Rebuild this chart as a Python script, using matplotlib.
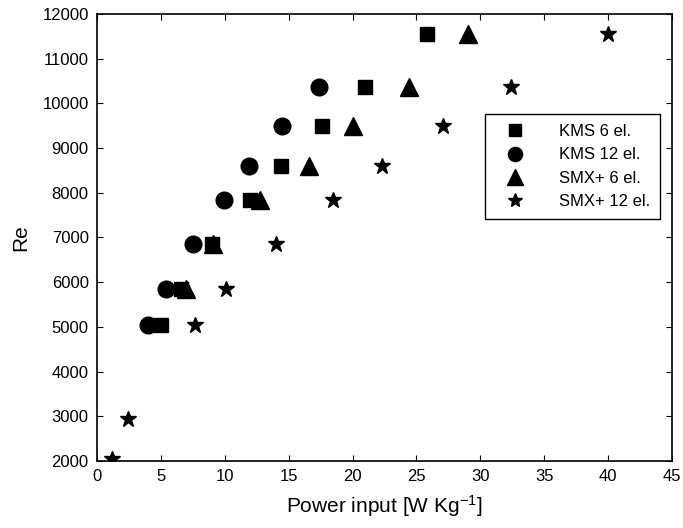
import matplotlib
matplotlib.use("Agg")
import matplotlib.pyplot as plt

plt.rcParams['font.family'] = ['Liberation Sans', 'DejaVu Sans']
plt.rcParams['mathtext.fontset'] = 'custom'
plt.rcParams['mathtext.rm'] = 'Liberation Sans'
plt.rcParams['mathtext.default'] = 'regular'

kms6_x = [5.0, 6.6, 9.0, 12.0, 14.4, 17.6, 21.0, 25.8]
kms6_y = [5050, 5840, 6850, 7850, 8610, 9500, 10370, 11550]

kms12_x = [4.0, 5.4, 7.5, 9.9, 11.9, 14.45, 17.4]
kms12_y = [5050, 5840, 6850, 7850, 8610, 9500, 10370]

smx6_x = [7.0, 9.1, 12.75, 16.6, 20.0, 24.4, 29.05]
smx6_y = [5840, 6850, 7850, 8610, 9500, 10370, 11550]

smx12_x = [1.2, 2.4, 7.67, 10.1, 14.0, 18.5, 22.3, 27.1, 32.4, 40.0]
smx12_y = [2040, 2930, 5050, 5840, 6850, 7850, 8610, 9500, 10370, 11550]

xticks = [0, 5, 10, 15, 20, 25, 30, 35, 40, 45]
yticks = [2000, 3000, 4000, 5000, 6000, 7000, 8000, 9000, 10000, 11000, 12000]

fig = plt.figure(figsize=(6.83, 5.28), dpi=100)
ax = fig.add_axes([97/683, 1-461/528, 575/683, 447/528])

ax.plot(kms6_x, kms6_y, 's', color='black', markersize=10, linestyle='none', label='KMS 6 el.')
ax.plot(kms12_x, kms12_y, 'o', color='black', markersize=12, linestyle='none', label='KMS 12 el.')
ax.plot(smx6_x, smx6_y, '^', color='black', markersize=13, linestyle='none', label='SMX+ 6 el.')
ax.plot(smx12_x, smx12_y, '*', color='black', markersize=12, linestyle='none', label='SMX+ 12 el.')

ax.set_xlim(0, 45)
ax.set_ylim(2000, 12000)
ax.set_xticks(xticks)
ax.set_yticks(yticks)
ax.tick_params(direction='in', top=True, right=True, length=4, width=0.8, labelsize=12, pad=6)
for s in ax.spines.values():
    s.set_linewidth(1.2)

ax.set_xlabel('Power input [W Kg$^{-1}$]', fontsize=15, labelpad=6)
ax.set_ylabel('Re', fontsize=15, labelpad=9)

leg = ax.legend(loc='upper right', bbox_to_anchor=(0.979, 0.776), fontsize=12,
                frameon=True, fancybox=False, edgecolor='black', framealpha=1,
                borderaxespad=0, handletextpad=1.4, labelspacing=0.5,
                borderpad=0.6, markerscale=0.85, handlelength=2.4)
leg.get_frame().set_linewidth(1.0)

fig.savefig('out.png', dpi=100)
